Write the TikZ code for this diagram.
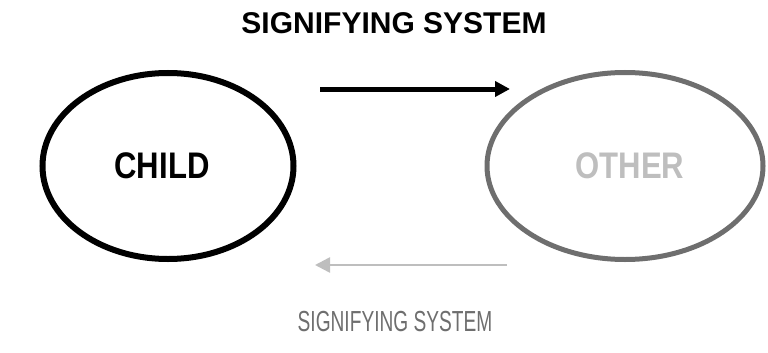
\documentclass[tikz,border=0pt]{standalone}
\usepackage{fontspec}
\setmainfont{Liberation Sans}
\usetikzlibrary{shapes.geometric,arrows.meta}
\definecolor{sGrey}{RGB}{110,110,110}
\definecolor{sFaint}{RGB}{190,190,190}
\newcommand{\squeeze}[2]{\scalebox{#1}[1]{#2}}

\begin{document}
\begin{tikzpicture}[
  x=1pt,
  y=-1pt,
  every node/.style={font=\bfseries},
  ovalnode/.style={
    draw,
    ellipse,
    inner sep=0pt
  },
  bigtext/.style={font=\bfseries\fontsize{37}{40}\selectfont},
  edge/.style={line width=5pt, -{Triangle[length=15pt,width=15pt]}}
]
  \useasboundingbox (0,0) rectangle (768,353);

  \node[font=\bfseries\fontsize{30}{34}\selectfont] (title) at (394,23) {SIGNIFYING SYSTEM};

  \node[ovalnode, line width=6pt, minimum width=251pt, minimum height=186pt,
        bigtext] (child) at (168,166) {\squeeze{0.84}{CHILD}\hspace*{12pt}};
  \node[ovalnode, draw=sGrey, line width=5pt, minimum width=276pt, minimum height=187pt,
        bigtext, text=sFaint] (other) at (625,166) {\hspace*{10pt}\squeeze{0.84}{OTHER}};

  \coordinate (topstart) at (320,89);
  \coordinate (topend) at (510,89);
  \coordinate (botstart) at (507,265);
  \coordinate (botend) at (315,265);

  \draw[edge] (topstart) -- (topend);
  \draw[edge, draw=sFaint, line width=2.5pt] (botstart) -- (botend);

  \node[font=\fontsize{29}{32}\selectfont, text=sGrey] (subtitle) at (395,322)
    {\squeeze{0.66}{SIGNIFYING SYSTEM}};
\end{tikzpicture}
\end{document}
